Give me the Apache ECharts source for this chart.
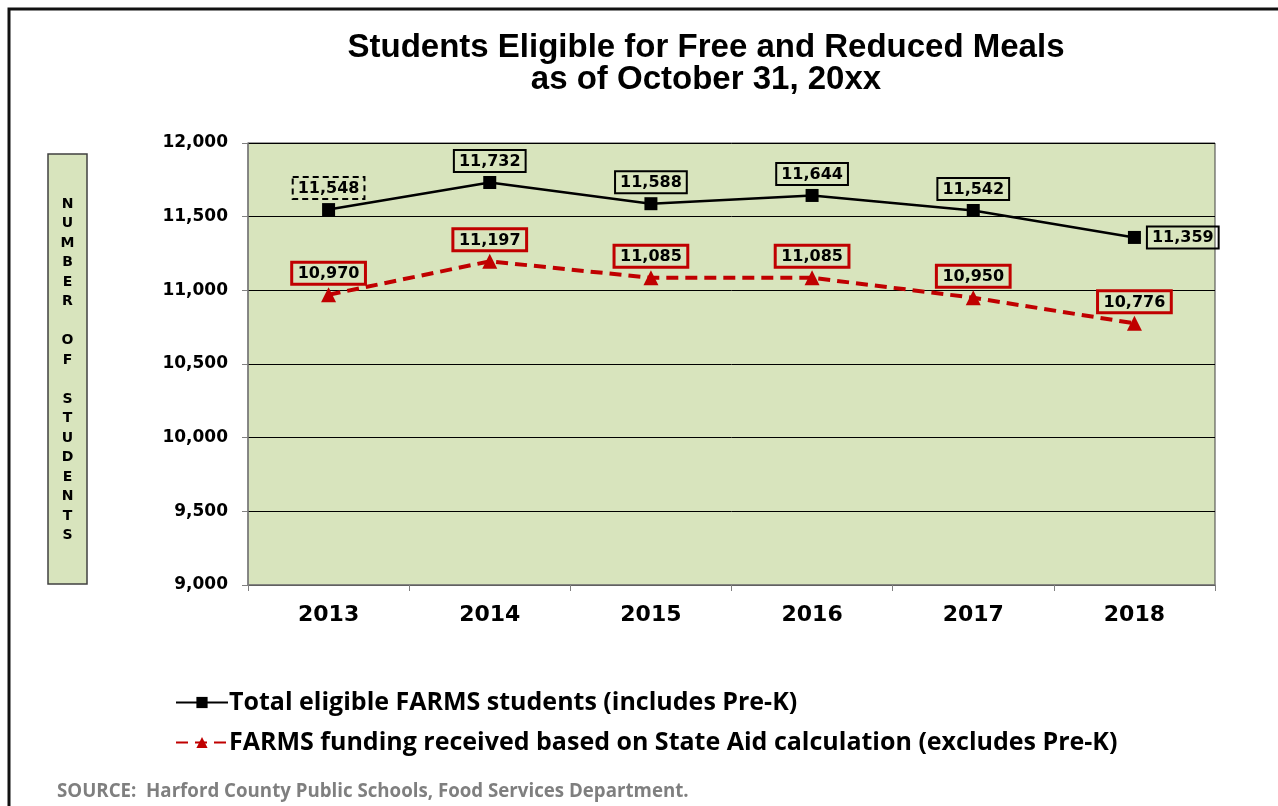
<!DOCTYPE html>
<html>
<head>
<meta charset="utf-8">
<script src="https://cdn.jsdelivr.net/npm/echarts@6/dist/echarts.min.js"></script>
<style>
  html, body { margin: 0; padding: 0; background: #fff; }
  #chart { width: 1278px; height: 806px; }
</style>
</head>
<body>
<div id="chart"></div>
<script>
var years = ['2013', '2014', '2015', '2016', '2017', '2018'];
var totalEligible = [11548, 11732, 11588, 11644, 11542, 11359];
var stateAid = [10970, 11197, 11085, 11085, 10950, 10776];
var yTicks = [9000, 9500, 10000, 10500, 11000, 11500, 12000];

var seriesNames = [
    'Total eligible FARMS students (includes Pre-K)',
    'FARMS funding received based on State Aid calculation (excludes Pre-K)'
];

var fmt = function (v) { return Number(v).toLocaleString('en-US'); };
var arial = '"Liberation Sans", Arial, sans-serif';
var wide = '"DejaVu Sans", Verdana, sans-serif';

// black labels: first one has a dashed box, last one sits to the right
var blackData = totalEligible.map(function (v, i) {
    var item = { value: v };
    if (i === 0) item.label = { borderType: [6, 4] };
    if (i === years.length - 1) item.label = { position: 'right', distance: 6 };
    return item;
});

var chart = echarts.init(document.getElementById('chart'));
chart.setOption({
    animation: false,
    backgroundColor: '#fff',
    title: {
        text: 'Students Eligible for Free and Reduced Meals\nas of October 31, 20xx',
        left: 701,
        top: 27,
        textAlign: 'center',
        textStyle: { fontFamily: arial, fontWeight: 'bold', fontSize: 33, lineHeight: 32, color: '#000' }
    },
    legend: {
        orient: 'vertical',
        left: 170,
        top: 685,
        itemGap: 15,
        itemWidth: 52,
        itemHeight: 14,
        textStyle: { fontFamily: '"Open Sans", Lato, sans-serif', fontWeight: 'bold', fontSize: 25, color: '#000', padding: [0, 0, 0, -4] },
        data: seriesNames
    },
    grid: {
        left: 248, right: 63, top: 143, bottom: 221,
        show: true,
        backgroundColor: '#d8e4bd',
        borderColor: '#404040',
        borderWidth: 1
    },
    xAxis: {
        type: 'category',
        data: years,
        boundaryGap: true,
        axisLine: { lineStyle: { color: '#808080', width: 1.5 } },
        axisTick: { show: true, length: 6, lineStyle: { color: '#808080' } },
        axisLabel: { fontFamily: wide, fontWeight: 'bold', fontSize: 22, color: '#000', margin: 19 }
    },
    yAxis: {
        type: 'value',
        min: yTicks[0],
        max: yTicks[yTicks.length - 1],
        interval: 500,
        axisLine: { show: true, lineStyle: { color: '#808080', width: 1.5 } },
        axisTick: { show: true, length: 6, lineStyle: { color: '#808080' } },
        splitLine: { lineStyle: { color: '#000', width: 1 } },
        axisLabel: { fontFamily: wide, fontWeight: 'bold', fontSize: 17, color: '#000', margin: 20, formatter: fmt }
    },
    series: [
        {
            name: seriesNames[0],
            type: 'line',
            data: blackData,
            symbol: 'rect',
            symbolSize: 13,
            itemStyle: { color: '#000' },
            lineStyle: { color: '#000', width: 2.5 },
            label: {
                show: true,
                position: 'top',
                distance: 4,
                formatter: function (p) { return fmt(p.value); },
                fontFamily: wide, fontWeight: 'bold', fontSize: 16, color: '#000',
                borderColor: '#000', borderWidth: 2, padding: [4, 5, 2, 5]
            },
            z: 3
        },
        {
            name: seriesNames[1],
            type: 'line',
            data: stateAid,
            symbol: 'triangle',
            symbolSize: 15,
            itemStyle: { color: '#c00000' },
            lineStyle: { color: '#c00000', width: 4, type: [12, 7] },
            label: {
                show: true,
                position: 'top',
                distance: 3,
                formatter: function (p) { return fmt(p.value); },
                fontFamily: wide, fontWeight: 'bold', fontSize: 16, color: '#000',
                borderColor: '#c00000', borderWidth: 3, padding: [4, 6, 2, 6]
            },
            z: 2
        }
    ],
    graphic: [
        {
            type: 'rect',
            shape: { x: 9, y: 9, width: 1300, height: 820 },
            style: { fill: 'none', stroke: '#111', lineWidth: 3 },
            silent: true
        },
        {
            type: 'rect',
            shape: { x: 48, y: 154, width: 39, height: 430 },
            style: { fill: '#d8e4bd', stroke: '#404040', lineWidth: 1.5 },
            silent: true
        },
        {
            type: 'text',
            x: 67.5,
            y: 370,
            style: {
                text: 'N\nU\nM\nB\nE\nR\n\nO\nF\n\nS\nT\nU\nD\nE\nN\nT\nS',
                font: 'bold 14px "DejaVu Sans", Verdana, sans-serif',
                lineHeight: 19.5,
                align: 'center',
                verticalAlign: 'middle',
                fill: '#000'
            },
            silent: true
        },
        {
            type: 'text',
            x: 57,
            y: 792,
            style: {
                text: 'SOURCE:  Harford County Public Schools, Food Services Department.',
                font: 'bold 18.7px "Open Sans", Lato, sans-serif',
                verticalAlign: 'middle',
                fill: '#7f7f7f'
            },
            silent: true
        }
    ]
});
</script>
</body>
</html>
